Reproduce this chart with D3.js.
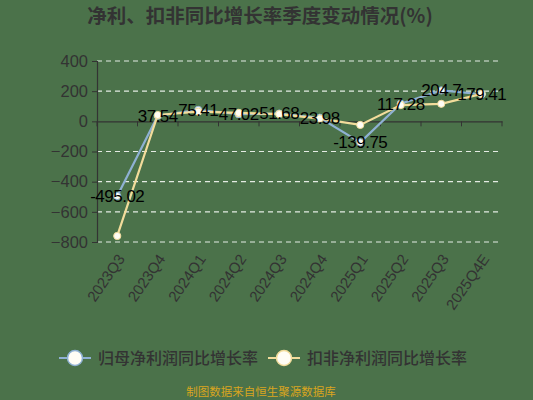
<!DOCTYPE html>
<html>
<head>
<meta charset="utf-8">
<script src="https://cdn.jsdelivr.net/npm/d3@7/dist/d3.min.js"></script>
<style>
  html, body { margin: 0; padding: 0; background: #4b724a; }
  svg { display: block; font-family: "Noto Sans CJK SC", "Noto Sans", sans-serif; }
</style>
</head>
<body>
<svg id="chart" width="533" height="400"></svg>
<script>
const quarters = ["2023Q3", "2023Q4", "2024Q1", "2024Q2", "2024Q3", "2024Q4", "2025Q1", "2025Q2", "2025Q3", "2025Q4E"];
const netProfitYoY = [-495.02, 37.54, 75.41, 47.02, 51.68, 23.98, -139.75, 117.28, 204.7, 179.41];
const deductedYoY = [-760, 42, 64, 56, 48, 18, -24, 108, 116, 182];
const yTicks = [-800, -600, -400, -200, 0, 200, 400];
const seriesNames = ["归母净利润同比增长率", "扣非净利润同比增长率"];

const colors = { blue: "#8fb1d3", yellow: "#f2dc9b" };
const numFont = "Liberation Sans, Arial, sans-serif";

const svg = d3.select("#chart");
const plot = { left: 97, right: 502, top: 61, bottom: 242 };

const x = d3.scalePoint().domain(quarters).range([plot.left, plot.right]).padding(0.5);
const xBand = d3.scaleBand().domain(quarters).range([plot.left, plot.right]);
const y = d3.scaleLinear().domain([-800, 400]).range([plot.bottom, plot.top]);

// title
svg.append("text")
  .attr("x", 260).attr("y", 23)
  .attr("text-anchor", "middle")
  .attr("font-size", 19.5).attr("font-weight", "bold")
  .attr("fill", "#333")
  .text("净利、扣非同比增长率季度变动情况(%)");

// grid
svg.append("g")
  .selectAll("line")
  .data(yTicks.filter((d) => d !== 0))
  .join("line")
  .attr("x1", plot.left).attr("x2", plot.right)
  .attr("y1", (d) => y(d)).attr("y2", (d) => y(d))
  .attr("stroke", "#e4ebe3").attr("stroke-width", 1.2)
  .attr("stroke-dasharray", "5,4");

// y axis
const yAxis = svg.append("g")
  .attr("transform", `translate(${plot.left},0)`)
  .call(d3.axisLeft(y).tickValues(yTicks).tickSize(5).tickPadding(4));
yAxis.select(".domain").attr("stroke", "#333").attr("stroke-width", 1.2);
yAxis.selectAll(".tick line").attr("stroke", "#333");
yAxis.selectAll(".tick text")
  .attr("font-size", 16.5).attr("fill", "#333")
  .attr("font-family", numFont);

// x axis at zero
const xAxis = svg.append("g")
  .attr("transform", `translate(0,${y(0)})`)
  .call(d3.axisBottom(xBand).tickSize(0).tickFormat(""));
xAxis.select(".domain").attr("stroke", "#333").attr("stroke-width", 1.2);
svg.append("g")
  .selectAll("line")
  .data(d3.range(quarters.length + 1))
  .join("line")
  .attr("x1", (i) => plot.left + i * xBand.step())
  .attr("x2", (i) => plot.left + i * xBand.step())
  .attr("y1", y(0)).attr("y2", y(0) + 5)
  .attr("stroke", "#333").attr("stroke-width", 1);

// x labels rotated
svg.append("g")
  .selectAll("text")
  .data(quarters)
  .join("text")
  .attr("transform", (d) => `translate(${x(d) + 4},${plot.bottom + 14}) rotate(-55)`)
  .attr("text-anchor", "end")
  .attr("dy", "0.35em")
  .attr("font-size", 15)
  .attr("fill", "#333")
  .attr("font-family", numFont)
  .text((d) => d);

const line = d3.line().x((d, i) => x(quarters[i])).y((d) => y(d));

function drawSeries(values, color) {
  svg.append("path")
    .datum(values)
    .attr("fill", "none")
    .attr("stroke", color)
    .attr("stroke-width", 2.2)
    .attr("d", line);
  svg.append("g")
    .selectAll("circle")
    .data(values)
    .join("circle")
    .attr("cx", (d, i) => x(quarters[i]))
    .attr("cy", (d) => y(d))
    .attr("r", 3.6)
    .attr("fill", "#fffdf5")
    .attr("stroke", color)
    .attr("stroke-width", 1);
}

drawSeries(netProfitYoY, colors.blue);
drawSeries(deductedYoY, colors.yellow);

// data labels for net profit series
svg.append("g")
  .selectAll("text")
  .data(netProfitYoY)
  .join("text")
  .attr("x", (d, i) => x(quarters[i]))
  .attr("y", (d) => y(d))
  .attr("dy", "0.35em")
  .attr("text-anchor", "middle")
  .attr("font-size", 17)
  .attr("letter-spacing", -0.5)
  .attr("fill", "#000")
  .attr("font-family", numFont)
  .text((d) => d);

// legend
const legend = svg.append("g");
const legendItems = [
  { name: seriesNames[0], color: colors.blue, x: 59 },
  { name: seriesNames[1], color: colors.yellow, x: 268 },
];
legendItems.forEach((it) => {
  const g = legend.append("g").attr("transform", `translate(${it.x},358)`);
  g.append("line").attr("x1", 0).attr("x2", 32).attr("y1", 0).attr("y2", 0)
    .attr("stroke", it.color).attr("stroke-width", 2);
  g.append("circle").attr("cx", 16).attr("cy", 0).attr("r", 7.5)
    .attr("fill", "#fffdf5").attr("stroke", it.color).attr("stroke-width", 1.5);
  g.append("text").attr("x", 39).attr("y", 0).attr("dy", "0.35em")
    .attr("font-size", 16).attr("font-weight", 500).attr("fill", "#333")
    .text(it.name);
});

// source note
svg.append("text")
  .attr("x", 261).attr("y", 396)
  .attr("text-anchor", "middle")
  .attr("font-size", 11.5)
  .attr("fill", "#d9a520")
  .text("制图数据来自恒生聚源数据库");
</script>
</body>
</html>
